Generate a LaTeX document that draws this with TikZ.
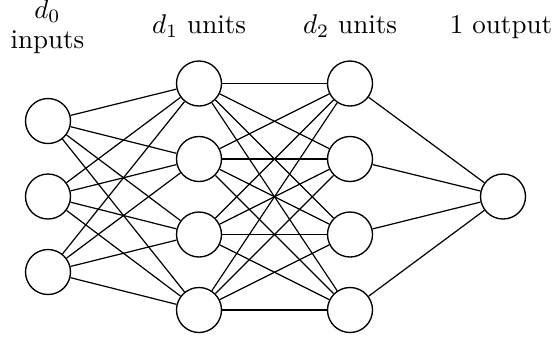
\documentclass[tikz,border=0pt]{standalone}
\begin{document}
\begin{tikzpicture}[x=0.37pt,y=-0.37pt,
  neuron/.style={circle,draw,line width=0.5pt,minimum size=45*0.37pt,inner sep=0pt},
  conn/.style={line width=0.45pt},
  lbl/.style={inner sep=0pt,anchor=base}]
\useasboundingbox (0,0) rectangle (553,341);
% inputs
\foreach \i/\y in {1/121,2/196.5,3/272}
  \node[neuron] (a\i) at (48,\y) {};
\foreach \i/\y in {1/83.5,2/159,3/234.5,4/310}
  \node[neuron] (b\i) at (199,\y) {};
\foreach \i/\y in {1/83.5,2/159,3/234.5,4/310}
  \node[neuron] (c\i) at (350,\y) {};
\node[neuron] (o) at (503,196.5) {};
\foreach \i in {1,2,3}
  \foreach \j in {1,2,3,4}
    \draw[conn] (a\i) -- (b\j);
\foreach \i in {1,2,3,4}
  \foreach \j in {1,2,3,4}
    \draw[conn] (b\i) -- (c\j);
\foreach \i in {1,2,3,4}
  \draw[conn] (c\i) -- (o);
\node[lbl] (l0) at (47.5,18) {$d_0$};
\node[lbl] (l0b) at (47.5,48) {inputs};
\node[lbl] (l1) at (199,33) {$d_1$ units};
\node[lbl] (l2) at (350,33) {$d_2$ units};
\node[lbl] (l3) at (501,33) {1 output};
\end{tikzpicture}
\end{document}
